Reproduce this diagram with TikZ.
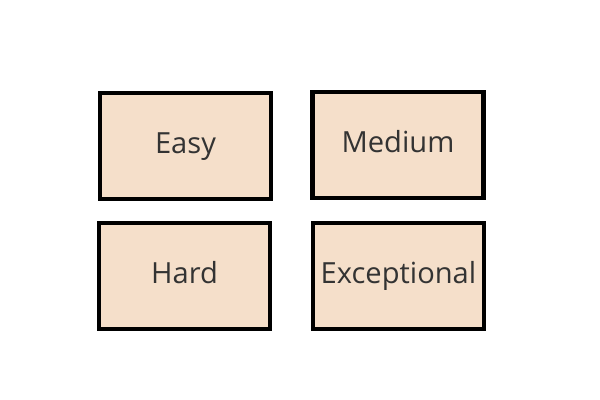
\documentclass[tikz,border=0pt]{standalone}
\usepackage{fontspec}
\setmainfont{Open Sans}
\usepackage{tikz}
\usetikzlibrary{positioning}
\definecolor{peach}{HTML}{F5DFCA}
\definecolor{textgray}{HTML}{333333}
\tikzset{
    level/.style={rectangle, draw=black, fill=peach, line width=3.4pt, minimum width=4.275cm, minimum height=2.65cm, inner sep=0pt, text height=1.1em, text depth=0pt, text=textgray, font=\fontsize{20.7}{24}\selectfont}
}

\begin{document}
\begin{tikzpicture}[x=0.025cm, y=-0.025cm]
    \useasboundingbox (0,0) rectangle (600,400);
    % Nodes
    \node[level] (easy) at (185.5,146) {Easy};
    \node[level] (medium) at (398,145) {Medium};
    \node[level] (hard) at (184.5,276) {Hard};
    \node[level] (exceptional) at (398.5,276) {Exceptional};
\end{tikzpicture}
\end{document}
